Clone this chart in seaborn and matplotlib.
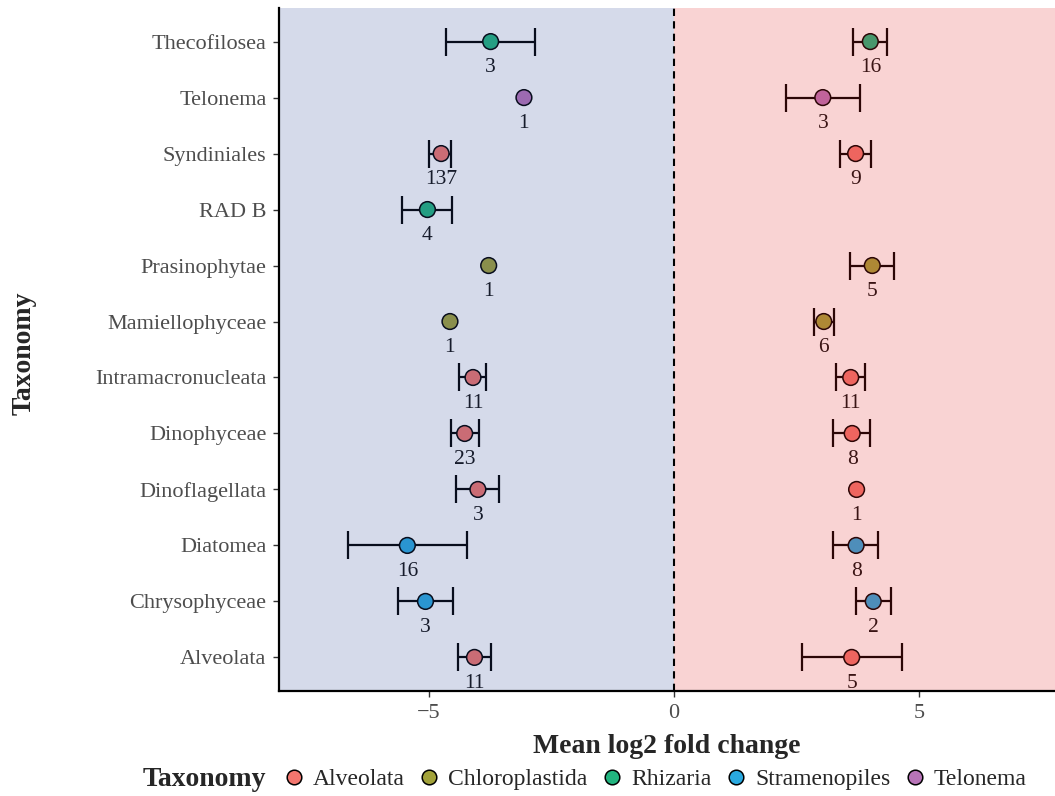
import numpy as np
import pandas as pd
import matplotlib
matplotlib.use("Agg")
import matplotlib.pyplot as plt
from matplotlib.lines import Line2D
import seaborn as sns

nan = np.nan

# Taxa, listed top to bottom
taxa = ["Thecofilosea", "Telonema", "Syndiniales", "RAD B", "Prasinophytae",
        "Mamiellophyceae", "Intramacronucleata", "Dinophyceae", "Dinoflagellata",
        "Diatomea", "Chrysophyceae", "Alveolata"]
lineage = ["Rhizaria", "Telonema", "Alveolata", "Rhizaria", "Chloroplastida",
           "Chloroplastida", "Alveolata", "Alveolata", "Alveolata",
           "Stramenopiles", "Stramenopiles", "Alveolata"]

# Depleted features (negative fold change)
down_mean = [-3.74, -3.06, -4.75, -5.03, -3.78, -4.57, -4.10, -4.27, -4.00, -5.44, -5.07, -4.07]
down_low = [-4.66, nan, -4.99, -5.54, nan, nan, -4.39, -4.54, -4.44, -6.65, -5.63, -4.40]
down_high = [-2.84, nan, -4.54, -4.52, nan, nan, -3.83, -3.97, -3.56, -4.22, -4.51, -3.74]
down_n = [3, 1, 137, 4, 1, 1, 11, 23, 3, 16, 3, 11]

# Enriched features (positive fold change)
up_mean = [4.01, 3.04, 3.71, nan, 4.05, 3.06, 3.61, 3.64, 3.73, 3.72, 4.07, 3.63]
up_low = [3.66, 2.28, 3.40, nan, 3.59, 2.86, 3.31, 3.25, nan, 3.25, 3.71, 2.61]
up_high = [4.35, 3.79, 4.03, nan, 4.50, 3.27, 3.90, 4.01, nan, 4.17, 4.43, 4.65]
up_n = [16, 3, 9, nan, 5, 6, 11, 8, 1, 8, 2, 5]

groups = ["Alveolata", "Chloroplastida", "Rhizaria", "Stramenopiles", "Telonema"]
group_colors = ["#F2766E", "#A2A23A", "#22B47F", "#2AA9E0", "#B874B8"]
palette = dict(zip(groups, group_colors))

rows = []
for side in [(down_mean, down_low, down_high, down_n), (up_mean, up_low, up_high, up_n)]:
    for i, t in enumerate(taxa):
        m, lo, hi, n = side[0][i], side[1][i], side[2][i], side[3][i]
        if np.isnan(m):
            continue
        rows.append(dict(taxon=t, group=lineage[i], mean=m, low=lo, high=hi, n=n,
                         ypos=len(taxa) - 1 - i))
df = pd.DataFrame(rows)

sns.set_style("ticks")
plt.rcParams["font.family"] = ["Liberation Serif", "DejaVu Serif"]

fig = plt.figure(figsize=(10.55, 7.96), dpi=100)
ax = fig.add_axes([279 / 1055, 1 - 691 / 796, 1 - 279 / 1055, (691 - 8) / 796])

# error bars
eb = df.dropna(subset=["low"])
ax.errorbar(eb["mean"], eb["ypos"], xerr=[eb["mean"] - eb["low"], eb["high"] - eb["mean"]],
            fmt="none", ecolor="black", elinewidth=1.6, capsize=10, capthick=1.6, zorder=2)

sns.scatterplot(data=df, x="mean", y="ypos", hue="group", palette=palette,
                hue_order=groups, s=128, edgecolor="black", linewidth=1.1,
                legend=False, zorder=3, ax=ax)

for _, r in df.iterrows():
    ax.annotate(f"{int(r['n'])}", (r["mean"], r["ypos"]), xytext=(0, -18.5),
                textcoords="offset points", ha="center", va="center",
                fontsize=15.5, color="#111111", zorder=4)

# shaded halves
ax.axvspan(-30, 0, color="#2D4696", alpha=0.2, lw=0, zorder=5)
ax.axvspan(0, 30, color="#E12323", alpha=0.2, lw=0, zorder=5)
ax.axvline(0, color="black", lw=1.5, ls=(0, (3.5, 2.5)), zorder=6)

ax.set_xlim(-8.06, 7.78)
ax.set_ylim(-0.6, len(taxa) - 0.4)
ax.set_yticks(range(len(taxa)))
ax.set_yticklabels(taxa[::-1])
ax.set_xticks([-5, 0, 5])
ax.set_xticklabels(["\u22125", "0", "5"])

for s in ["top", "right"]:
    ax.spines[s].set_visible(False)
for s in ["left", "bottom"]:
    ax.spines[s].set_color("black")
    ax.spines[s].set_linewidth(1.6)
    ax.spines[s].set_zorder(7)

ax.tick_params(axis="both", colors="#333333", labelcolor="#4D4D4D", length=4,
               width=1, labelsize=16)
ax.tick_params(axis="x", pad=5)
ax.tick_params(axis="y", pad=5)

ax.set_xlabel("Mean log2 fold change", fontsize=20, fontweight="bold", labelpad=8)
ax.set_ylabel("Taxonomy", fontsize=20, fontweight="bold")
ax.yaxis.set_label_coords((37 - 279) / 776, 0.495)

# legend
fig.text(143 / 1055, 1 - 779 / 796, "Taxonomy", fontsize=20, fontweight="bold",
         ha="left", va="center")
handles = [Line2D([], [], ls="none", marker="o", markersize=10.5,
                  markerfacecolor=palette[g], markeredgecolor="black",
                  markeredgewidth=1.1) for g in groups]
fig.legend(handles, groups, loc="center left", bbox_to_anchor=(282 / 1055, 1 - 779 / 796),
           ncol=5, frameon=False, fontsize=17, handletextpad=0.3,
           columnspacing=0.55, handlelength=1.0, borderpad=0, borderaxespad=0)

fig.savefig("out.png", dpi=100)
